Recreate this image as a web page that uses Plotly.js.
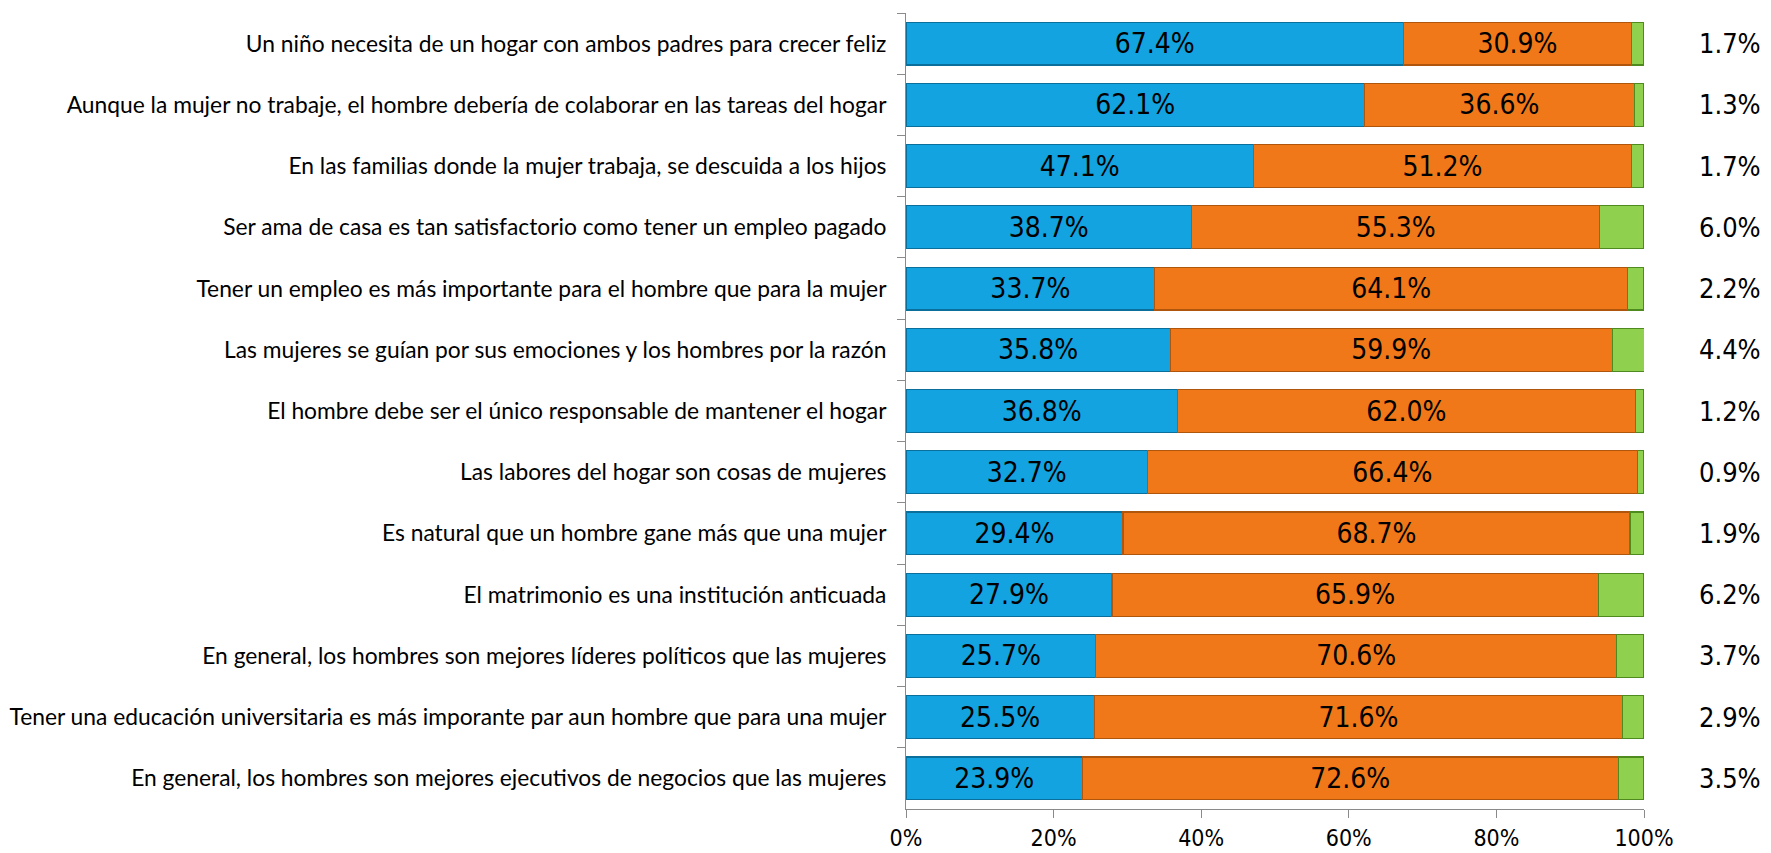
<!DOCTYPE html>
<html>
<head>
<meta charset="utf-8">
<script src="https://cdn.plot.ly/plotly-3.0.1.min.js"></script>
<style>html,body{margin:0;padding:0;background:#fff;}#chart{width:1771px;height:853px;}</style>
</head>
<body>
<div id="chart"></div>
<script>
const categories = [
  "Un niño necesita de un hogar con ambos padres para crecer feliz",
  "Aunque la mujer no trabaje, el hombre debería de colaborar en las tareas del hogar",
  "En las familias donde la mujer trabaja, se descuida a los hijos",
  "Ser ama de casa es tan satisfactorio como tener un empleo pagado",
  "Tener un empleo es más importante para el hombre que para la mujer",
  "Las mujeres se guían por sus emociones y los hombres por la razón",
  "El hombre debe ser el único responsable de mantener el hogar",
  "Las labores del hogar son cosas de mujeres",
  "Es natural que un hombre gane más que una mujer",
  "El matrimonio es una institución anticuada",
  "En general, los hombres son mejores líderes políticos que las mujeres",
  "Tener una educación universitaria es más imporante par aun hombre que para una mujer",
  "En general, los hombres son mejores ejecutivos de negocios que las mujeres"
];
const blueValues   = [67.4, 62.1, 47.1, 38.7, 33.7, 35.8, 36.8, 32.7, 29.4, 27.9, 25.7, 25.5, 23.9];
const orangeValues = [30.9, 36.6, 51.2, 55.3, 64.1, 59.9, 62.0, 66.4, 68.7, 65.9, 70.6, 71.6, 72.6];
const greenValues  = [1.7, 1.3, 1.7, 6.0, 2.2, 4.4, 1.2, 0.9, 1.9, 6.2, 3.7, 2.9, 3.5];
const xTicks = [0, 20, 40, 60, 80, 100];

const numFont = "'DejaVu Sans Condensed', 'DejaVu Sans', sans-serif";
const labelFont = "Lato, 'Open Sans', sans-serif";

function barTrace(vals, fill, line, showText) {
  return {
    type: 'bar', orientation: 'h',
    y: categories, x: vals,
    marker: {color: fill, line: {color: line, width: 1.2}},
    text: showText ? vals.map(v => v.toFixed(1) + '%') : null,
    textposition: showText ? 'inside' : 'none',
    insidetextanchor: 'middle',
    textangle: 0,
    insidetextfont: {family: numFont, size: 28, color: '#000'},
    hoverinfo: 'skip'
  };
}

const data = [
  barTrace(blueValues, '#12a3e0', '#0b6f9c', true),
  barTrace(orangeValues, '#f07818', '#b0560c', true),
  barTrace(greenValues, '#8fd14f', '#4f8a1f', false)
];

const annotations = categories.map((c, i) => ({
  xref: 'paper', yref: 'y', x: 1.116, y: c,
  text: greenValues[i].toFixed(1) + '%',
  showarrow: false, xanchor: 'center', yanchor: 'middle',
  font: {family: numFont, size: 27, color: '#000'}
}));

const layout = {
  width: 1771, height: 853,
  margin: {l: 906, r: 127, t: 13, b: 44, pad: 0},
  barmode: 'stack', bargap: 0.3,
  showlegend: false,
  paper_bgcolor: '#fff', plot_bgcolor: '#fff',
  xaxis: {
    range: [0, 100], tickvals: xTicks, ticktext: xTicks.map(v => v + '%'),
    showgrid: false, zeroline: false,
    showline: true, linecolor: '#8a8a8a', linewidth: 1,
    ticks: 'outside', ticklen: 8, tickcolor: '#8a8a8a',
    tickfont: {family: numFont, size: 23, color: '#000'}, fixedrange: true
  },
  yaxis: {
    autorange: 'reversed', type: 'category',
    showgrid: false, zeroline: false,
    showline: true, linecolor: '#8a8a8a', linewidth: 1,
    ticks: 'outside', tickson: 'boundaries', ticklen: 8, tickcolor: '#8a8a8a',
    ticklabelstandoff: 14,
    tickfont: {family: labelFont, size: 22.8, color: '#000'}, fixedrange: true
  },
  annotations: annotations
};

Plotly.newPlot('chart', data, layout, {staticPlot: true, displayModeBar: false});
</script>
</body>
</html>
